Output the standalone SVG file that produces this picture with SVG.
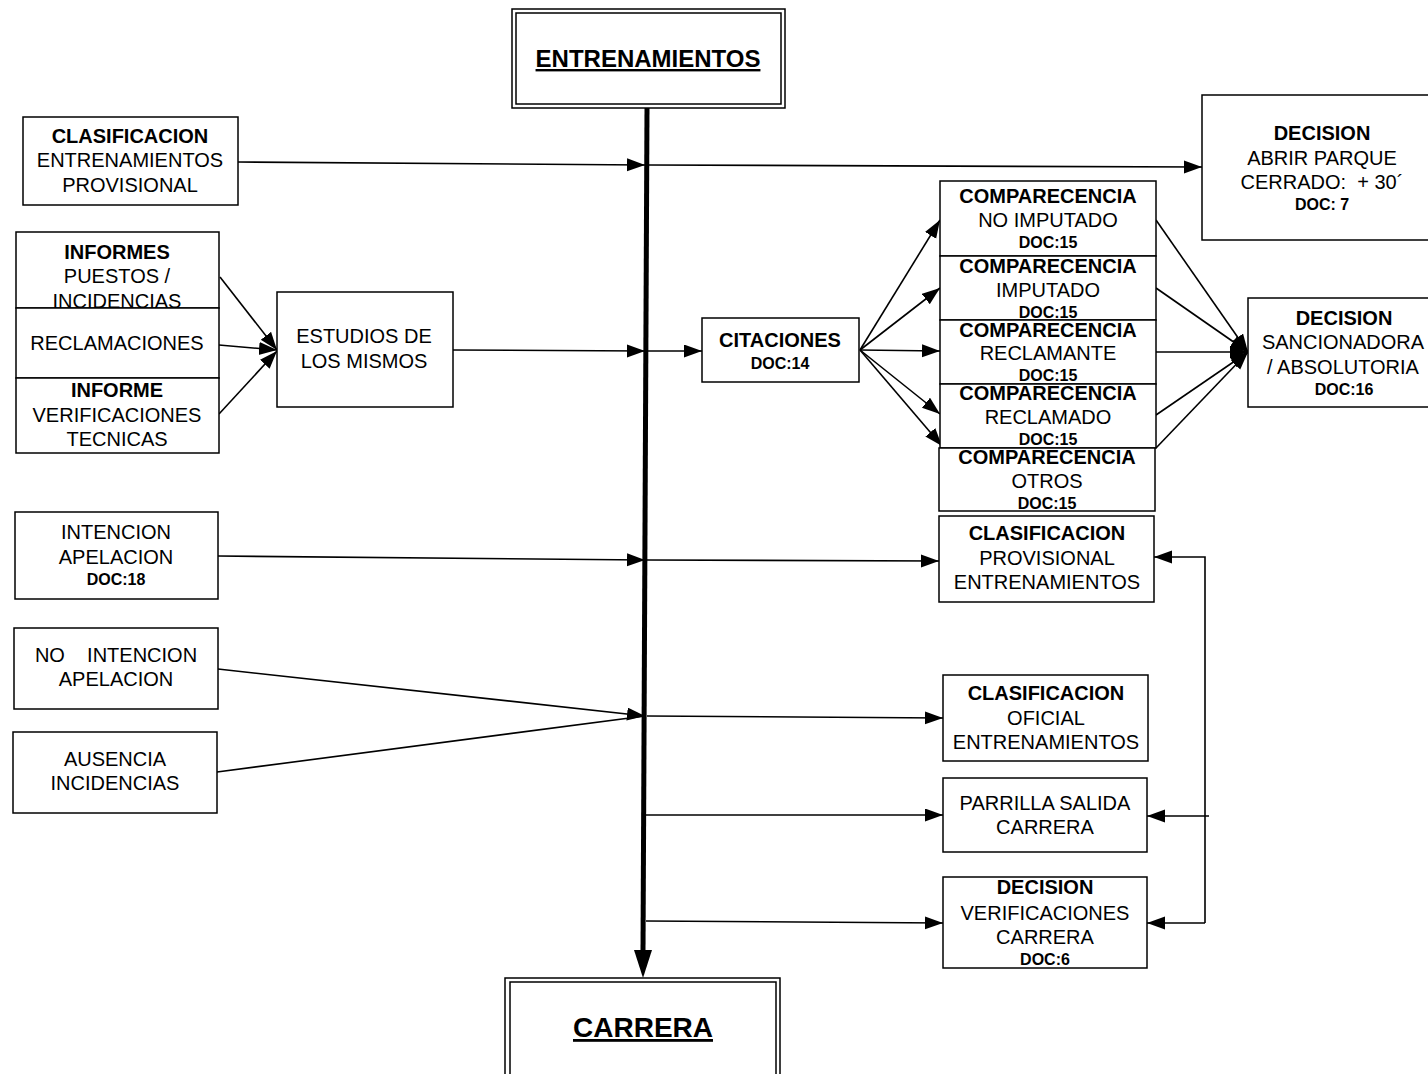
<svg xmlns="http://www.w3.org/2000/svg" width="1428" height="1074" viewBox="0 0 1428 1074">
  <style>
    .box { fill: #fff; stroke: #000; stroke-width: 1.5; }
    .frame { fill: none; stroke: #000; stroke-width: 1.5; }
    .t { font-family: "Liberation Sans", Arial, sans-serif; font-size: 20px; text-anchor: middle; fill: #000; }
    .b { font-weight: bold; }
    .d { font-size: 16px; font-weight: bold; }
    .title { font-weight: bold; text-decoration: underline; }
    .t24 { font-size: 24px; }
    .t28 { font-size: 28px; }
    .pre { white-space: pre; }
    #connectors line, #connectors polyline { stroke: #000; stroke-width: 1.6; fill: none; }
    #connectors .spine { stroke-width: 5; }
  </style>
  <defs>
    <marker id="arrow" markerUnits="userSpaceOnUse" markerWidth="19" markerHeight="14" refX="18" refY="6.5" orient="auto">
      <path d="M0,0 L18,6.5 L0,13 z" fill="#000"/>
    </marker>
  </defs>

  <rect x="0" y="0" width="1428" height="1074" fill="#fff"/>

  <!-- connectors -->
  <g id="connectors">
    <!-- main spine ENTRENAMIENTOS -> CARRERA -->
    <line class="spine" x1="647" y1="108" x2="643" y2="952"/>
    <path d="M634,950 L652,950 L643,978 z" fill="#000"/>

    <!-- clasificacion provisional -> spine -> decision parque cerrado -->
    <line x1="238" y1="162" x2="645" y2="165" marker-end="url(#arrow)"/>
    <line x1="647" y1="165" x2="1202" y2="167" marker-end="url(#arrow)"/>

    <!-- informes / reclamaciones / verificaciones -> estudios -->
    <line x1="220" y1="277" x2="277" y2="350" marker-end="url(#arrow)"/>
    <line x1="219" y1="345" x2="277" y2="350" marker-end="url(#arrow)"/>
    <line x1="219" y1="414" x2="277" y2="351" marker-end="url(#arrow)"/>

    <!-- estudios -> spine -> citaciones -->
    <line x1="452" y1="350" x2="645" y2="351" marker-end="url(#arrow)"/>
    <line x1="647" y1="351" x2="702" y2="351" marker-end="url(#arrow)"/>

    <!-- citaciones -> comparecencias -->
    <line x1="860" y1="350" x2="940" y2="220" marker-end="url(#arrow)"/>
    <line x1="860" y1="350" x2="940" y2="288" marker-end="url(#arrow)"/>
    <line x1="860" y1="350" x2="940" y2="351" marker-end="url(#arrow)"/>
    <line x1="860" y1="350" x2="940" y2="414" marker-end="url(#arrow)"/>
    <line x1="860" y1="350" x2="942" y2="446" marker-end="url(#arrow)"/>

    <!-- comparecencias -> decision sancionadora -->
    <line x1="1156" y1="220" x2="1248" y2="352" marker-end="url(#arrow)"/>
    <line x1="1156" y1="288" x2="1248" y2="352" marker-end="url(#arrow)"/>
    <line x1="1156" y1="352" x2="1248" y2="352" marker-end="url(#arrow)"/>
    <line x1="1156" y1="415" x2="1248" y2="352" marker-end="url(#arrow)"/>
    <line x1="1156" y1="448" x2="1248" y2="352" marker-end="url(#arrow)"/>

    <!-- intencion apelacion -> spine -> clasificacion provisional -->
    <line x1="218" y1="556" x2="645" y2="560" marker-end="url(#arrow)"/>
    <line x1="647" y1="560" x2="939" y2="561" marker-end="url(#arrow)"/>

    <!-- no intencion / ausencia -> spine -> clasificacion oficial -->
    <line x1="218" y1="669" x2="645" y2="716" marker-end="url(#arrow)"/>
    <line x1="217" y1="772" x2="645" y2="716"/>
    <line x1="647" y1="716" x2="943" y2="718" marker-end="url(#arrow)"/>

    <!-- spine -> parrilla, decision verificaciones -->
    <line x1="646" y1="815" x2="943" y2="815" marker-end="url(#arrow)"/>
    <line x1="646" y1="921" x2="943" y2="923" marker-end="url(#arrow)"/>

    <!-- feedback line on the right -->
    <polyline points="1205,923 1205,557 1154,557" marker-end="url(#arrow)"/>
    <line x1="1209" y1="816" x2="1147" y2="816" marker-end="url(#arrow)"/>
    <line x1="1205" y1="923" x2="1147" y2="923" marker-end="url(#arrow)"/>
  </g>

  <!-- ENTRENAMIENTOS (double frame) -->
  <g id="entrenamientos">
    <rect class="box" x="512" y="9" width="273" height="99" stroke-width="2"/>
    <rect class="frame" x="516" y="13" width="265" height="91"/>
    <text class="t title t24" x="648" y="67">ENTRENAMIENTOS</text>
  </g>

  <!-- CARRERA (double frame) -->
  <g id="carrera">
    <rect class="box" x="505" y="978" width="275" height="110" stroke-width="2"/>
    <rect class="frame" x="510" y="982" width="266" height="100"/>
    <text class="t title t28" x="643" y="1037">CARRERA</text>
  </g>

  <g id="clasificacion-entrenamientos-provisional">
    <rect class="box" x="23" y="117" width="215" height="88"/>
    <text class="t b" x="130" y="143">CLASIFICACION</text>
    <text class="t" x="130" y="167">ENTRENAMIENTOS</text>
    <text class="t" x="130" y="192">PROVISIONAL</text>
  </g>

  <g id="decision-parque-cerrado">
    <rect class="box" x="1202" y="95" width="240" height="145"/>
    <text class="t b" x="1322" y="140">DECISION</text>
    <text class="t" x="1322" y="165">ABRIR PARQUE</text>
    <text class="t pre" x="1322" y="189">CERRADO:  + 30´</text>
    <text class="t d" x="1322" y="210">DOC: 7</text>
  </g>

  <g id="informes">
    <rect class="box" x="16" y="232" width="203" height="76"/>
    <text class="t b" x="117" y="259">INFORMES</text>
    <text class="t" x="117" y="283">PUESTOS /</text>
    <text class="t" x="117" y="308">INCIDENCIAS</text>
  </g>

  <g id="reclamaciones">
    <rect class="box" x="16" y="308" width="203" height="70"/>
    <text class="t" x="117" y="350">RECLAMACIONES</text>
  </g>

  <g id="informe-verificaciones">
    <rect class="box" x="16" y="378" width="203" height="75"/>
    <text class="t b" x="117" y="397">INFORME</text>
    <text class="t" x="117" y="422">VERIFICACIONES</text>
    <text class="t" x="117" y="446">TECNICAS</text>
  </g>

  <g id="estudios">
    <rect class="box" x="277" y="292" width="176" height="115"/>
    <text class="t" x="364" y="343">ESTUDIOS DE</text>
    <text class="t" x="364" y="368">LOS MISMOS</text>
  </g>

  <g id="citaciones">
    <rect class="box" x="702" y="318" width="157" height="64"/>
    <text class="t b" x="780" y="347">CITACIONES</text>
    <text class="t d" x="780" y="369">DOC:14</text>
  </g>

  <g id="comparecencia-no-imputado">
    <rect class="box" x="940" y="181" width="216" height="75"/>
    <text class="t b" x="1048" y="203">COMPARECENCIA</text>
    <text class="t" x="1048" y="227">NO IMPUTADO</text>
    <text class="t d" x="1048" y="248">DOC:15</text>
  </g>

  <g id="comparecencia-imputado">
    <rect class="box" x="940" y="256" width="216" height="64"/>
    <text class="t b" x="1048" y="273">COMPARECENCIA</text>
    <text class="t" x="1048" y="297">IMPUTADO</text>
    <text class="t d" x="1048" y="318">DOC:15</text>
  </g>

  <g id="comparecencia-reclamante">
    <rect class="box" x="940" y="320" width="216" height="64"/>
    <text class="t b" x="1048" y="337">COMPARECENCIA</text>
    <text class="t" x="1048" y="360">RECLAMANTE</text>
    <text class="t d" x="1048" y="381">DOC:15</text>
  </g>

  <g id="comparecencia-reclamado">
    <rect class="box" x="940" y="384" width="216" height="64"/>
    <text class="t b" x="1048" y="400">COMPARECENCIA</text>
    <text class="t" x="1048" y="424">RECLAMADO</text>
    <text class="t d" x="1048" y="445">DOC:15</text>
  </g>

  <g id="comparecencia-otros">
    <rect class="box" x="939" y="448" width="216" height="63"/>
    <text class="t b" x="1047" y="464">COMPARECENCIA</text>
    <text class="t" x="1047" y="488">OTROS</text>
    <text class="t d" x="1047" y="509">DOC:15</text>
  </g>

  <g id="decision-sancionadora">
    <rect class="box" x="1248" y="298" width="194" height="109"/>
    <text class="t b" x="1344" y="325">DECISION</text>
    <text class="t" x="1343" y="349">SANCIONADORA</text>
    <text class="t" x="1343" y="374">/ ABSOLUTORIA</text>
    <text class="t d" x="1344" y="395">DOC:16</text>
  </g>

  <g id="intencion-apelacion">
    <rect class="box" x="15" y="512" width="203" height="87"/>
    <text class="t" x="116" y="539">INTENCION</text>
    <text class="t" x="116" y="564">APELACION</text>
    <text class="t d" x="116" y="585">DOC:18</text>
  </g>

  <g id="clasificacion-provisional-entrenamientos">
    <rect class="box" x="939" y="516" width="215" height="86"/>
    <text class="t b" x="1047" y="540">CLASIFICACION</text>
    <text class="t" x="1047" y="565">PROVISIONAL</text>
    <text class="t" x="1047" y="589">ENTRENAMIENTOS</text>
  </g>

  <g id="no-intencion-apelacion">
    <rect class="box" x="14" y="628" width="204" height="81"/>
    <text class="t pre" x="116" y="662">NO    INTENCION</text>
    <text class="t" x="116" y="686">APELACION</text>
  </g>

  <g id="ausencia-incidencias">
    <rect class="box" x="13" y="732" width="204" height="81"/>
    <text class="t" x="115" y="766">AUSENCIA</text>
    <text class="t" x="115" y="790">INCIDENCIAS</text>
  </g>

  <g id="clasificacion-oficial">
    <rect class="box" x="943" y="675" width="205" height="86"/>
    <text class="t b" x="1046" y="700">CLASIFICACION</text>
    <text class="t" x="1046" y="725">OFICIAL</text>
    <text class="t" x="1046" y="749">ENTRENAMIENTOS</text>
  </g>

  <g id="parrilla-salida">
    <rect class="box" x="943" y="778" width="204" height="74"/>
    <text class="t" x="1045" y="810">PARRILLA SALIDA</text>
    <text class="t" x="1045" y="834">CARRERA</text>
  </g>

  <g id="decision-verificaciones">
    <rect class="box" x="943" y="877" width="204" height="91"/>
    <text class="t b" x="1045" y="894">DECISION</text>
    <text class="t" x="1045" y="920">VERIFICACIONES</text>
    <text class="t" x="1045" y="944">CARRERA</text>
    <text class="t d" x="1045" y="965">DOC:6</text>
  </g>
</svg>
